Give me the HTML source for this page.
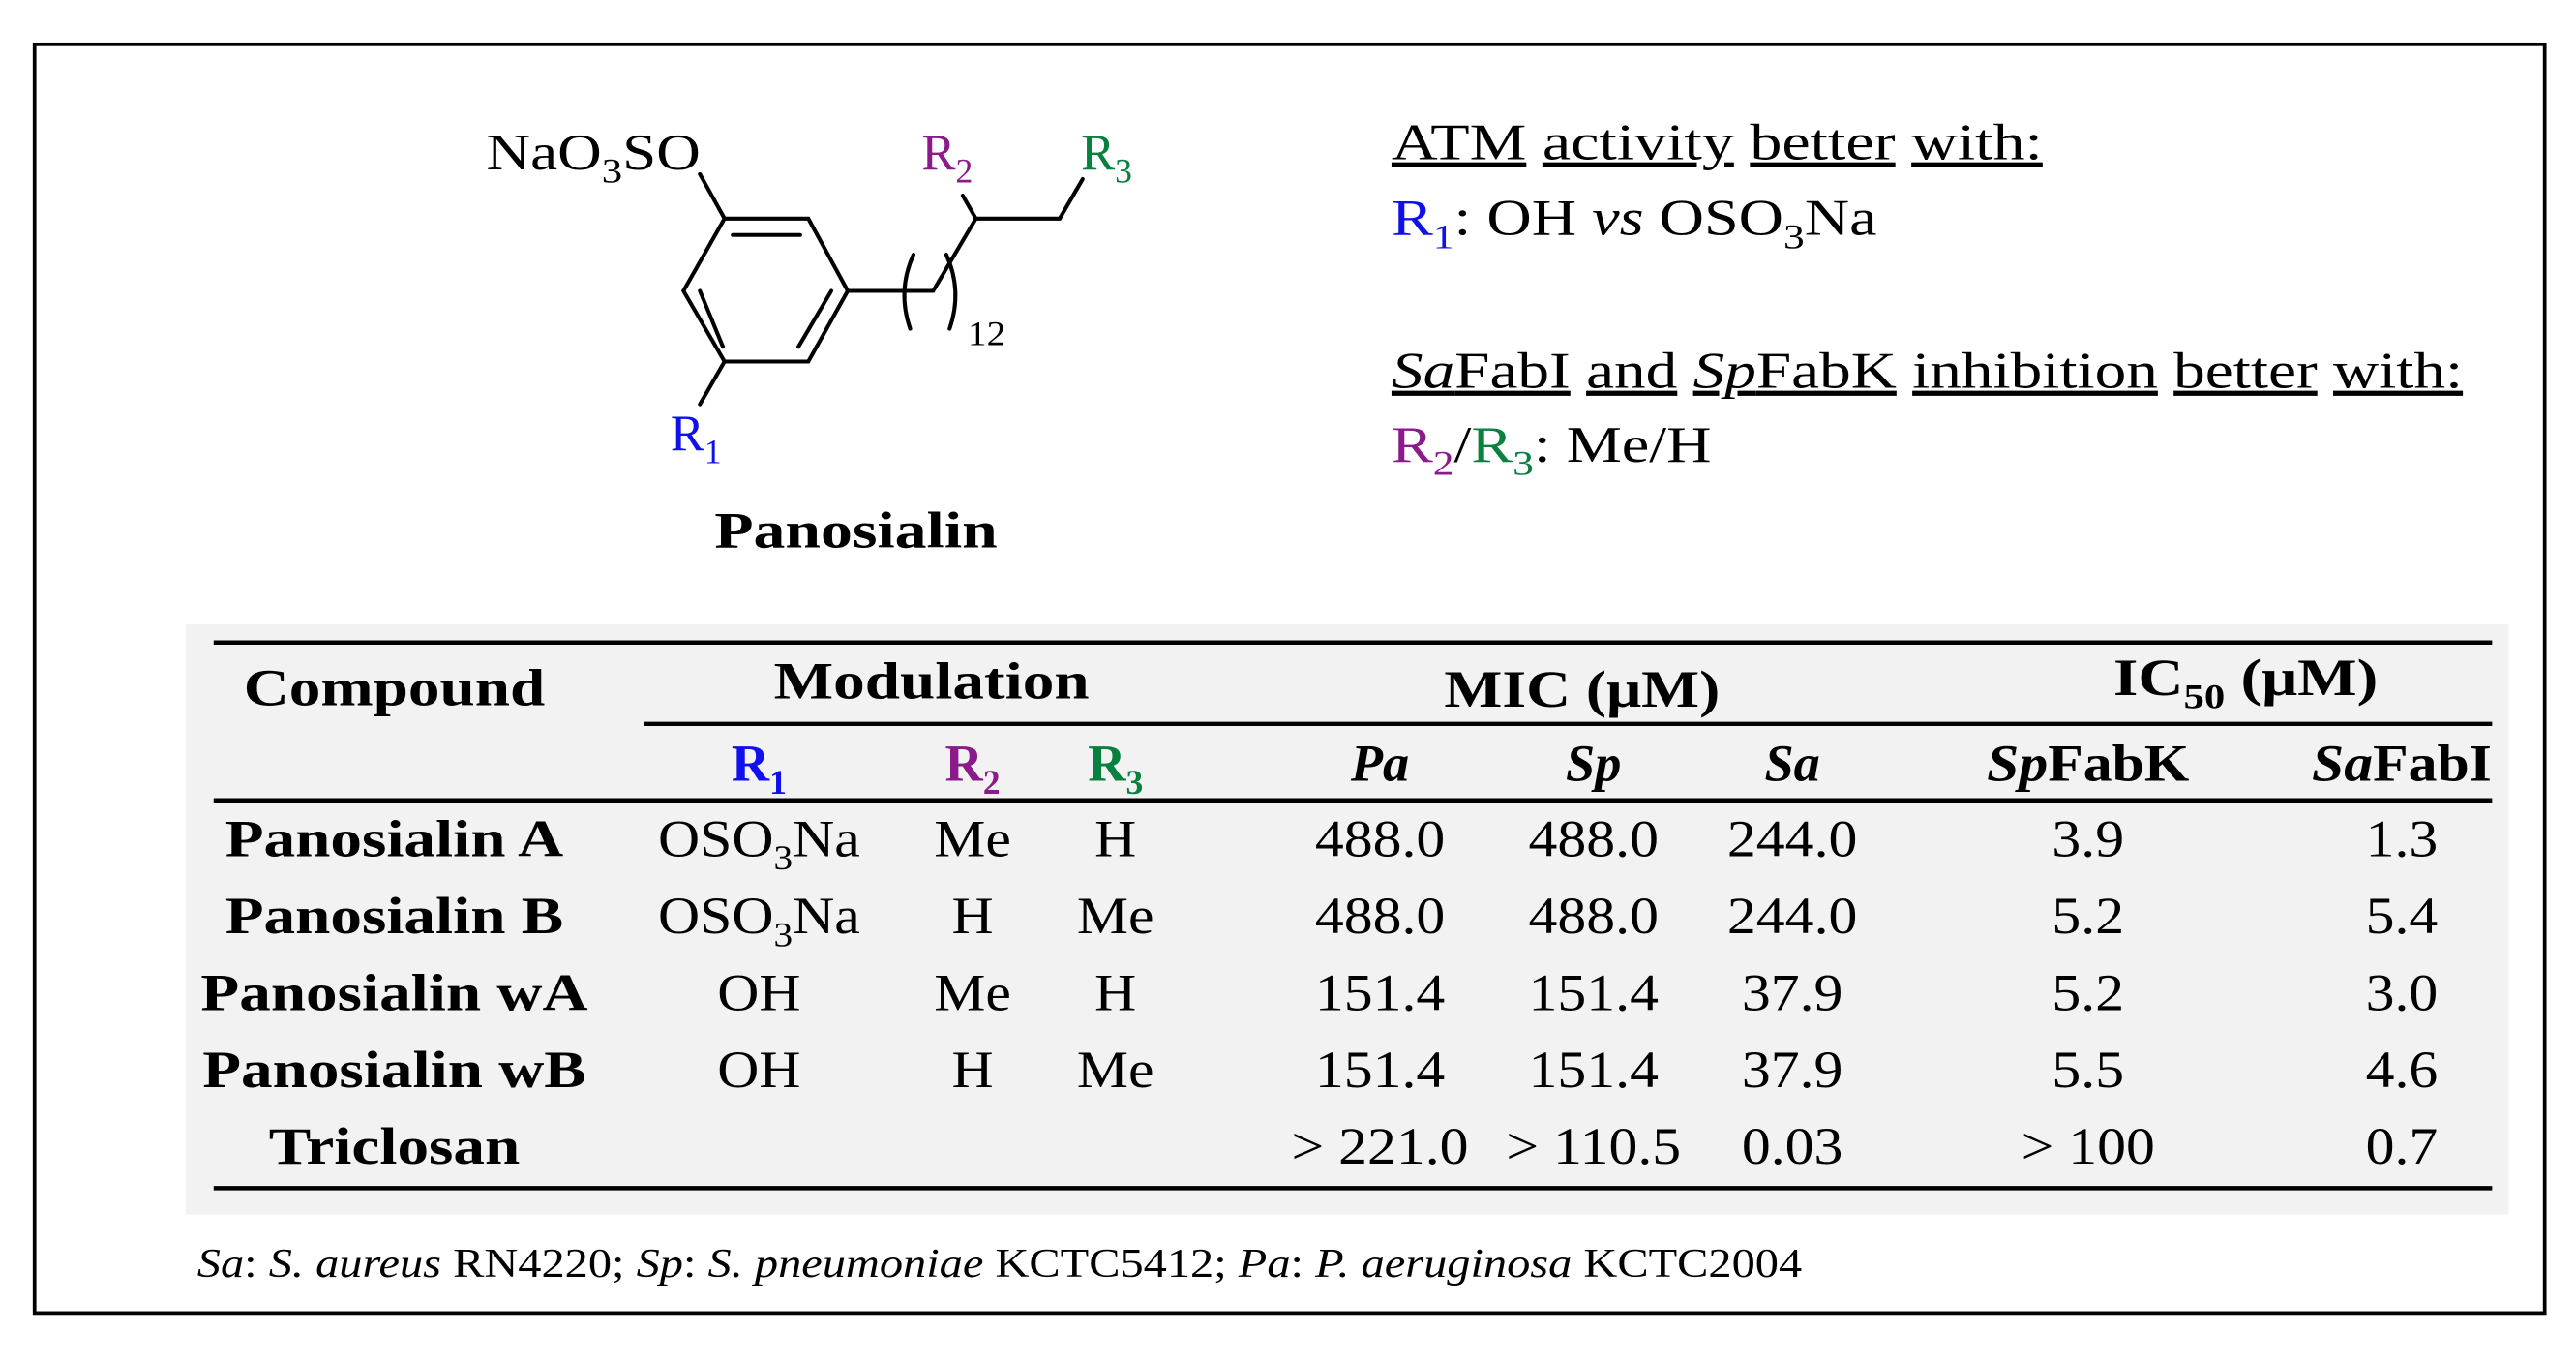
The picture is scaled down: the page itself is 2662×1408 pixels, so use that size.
<!DOCTYPE html>
<html><head><meta charset="utf-8">
<style>
html,body{margin:0;padding:0;background:#fff;}
svg{display:block;}
text{font-family:"Liberation Serif",serif;fill:#000;}
.b{font-weight:bold;}
.i{font-style:italic;}
.c1{fill:#1010ee;} .c2{fill:#8b1a8b;} .c3{fill:#0a8040;}
</style></head>
<body>
<svg id="fig" width="2662" height="1408" viewBox="0 0 1568 829.4" xmlns="http://www.w3.org/2000/svg">
<rect x="21" y="27" width="1528" height="772" fill="none" stroke="#000" stroke-width="2.2"/>

<g stroke="#000" stroke-width="2.4" fill="none" stroke-linecap="round">
  <polygon points="441,133 492,133 516,177 492,220 441,220 416,177"/>
  <line x1="446" y1="143" x2="487" y2="143"/>
  <line x1="426" y1="177" x2="440" y2="211"/>
  <line x1="506" y1="177" x2="486" y2="211"/>
  <line x1="441" y1="133" x2="426" y2="106"/>
  <line x1="441" y1="220" x2="426" y2="246"/>
  <polyline points="516,177 568,177 594,133 645,133 659,109"/>
  <line x1="594" y1="133" x2="586" y2="119"/>
  <path d="M556,155 Q546,177 554,200"/>
  <path d="M576,155 Q586,177 578,200"/>
</g>
<text x="296" y="103" font-size="31" data-s="1.2">NaO<tspan font-size="21" dy="8">3</tspan><tspan dy="-8">SO</tspan></text>
<text x="589" y="210" font-size="21" data-s="1.1">12</text>
<text x="561" y="103" font-size="31" class="c2">R<tspan font-size="21" dy="8" class="c2">2</tspan></text>
<text x="658" y="103" font-size="31" class="c3">R<tspan font-size="21" dy="8" class="c3">3</tspan></text>
<text x="408" y="274" font-size="31" class="c1">R<tspan font-size="21" dy="8" class="c1">1</tspan></text>
<text x="521" y="333" font-size="31" class="b" text-anchor="middle" data-s="1.25">Panosialin</text>

<g font-size="31">
<text x="847" y="97" data-s="1.255"><tspan text-decoration="underline">ATM</tspan> <tspan text-decoration="underline">activity</tspan> <tspan text-decoration="underline">better</tspan> <tspan text-decoration="underline">with:</tspan></text>
<text x="847" y="143" data-s="1.22"><tspan class="c1">R</tspan><tspan class="c1" font-size="21" dy="8">1</tspan><tspan dy="-8">: OH </tspan><tspan class="i">vs</tspan> OSO<tspan font-size="21" dy="8">3</tspan><tspan dy="-8">Na</tspan></text>
<text x="847" y="236" data-s="1.24"><tspan text-decoration="underline"><tspan class="i">Sa</tspan>FabI</tspan> <tspan text-decoration="underline">and</tspan> <tspan text-decoration="underline"><tspan class="i">Sp</tspan>FabK</tspan> <tspan text-decoration="underline">inhibition</tspan> <tspan text-decoration="underline">better</tspan> <tspan text-decoration="underline">with:</tspan></text>
<text x="847" y="281" data-s="1.22"><tspan class="c2">R</tspan><tspan class="c2" font-size="21" dy="8">2</tspan><tspan dy="-8">/</tspan><tspan class="c3">R</tspan><tspan class="c3" font-size="21" dy="8">3</tspan><tspan dy="-8">: Me/H</tspan></text>
</g>

<rect x="113" y="380" width="1414" height="359" fill="#f2f2f2"/>
<g stroke="#000" stroke-width="2.6">
<line x1="130" y1="391" x2="1517" y2="391"/>
<line x1="392" y1="440.5" x2="1517" y2="440.5"/>
<line x1="130" y1="487" x2="1517" y2="487"/>
<line x1="130" y1="723" x2="1517" y2="723"/>
</g>
<g font-size="32" class="b" text-anchor="middle">
<text x="240" y="429" class="b" data-s="1.2">Compound</text>
<text x="567" y="425" class="b" data-s="1.2">Modulation</text>
<text x="963" y="430" class="b" data-s="1.17">MIC (μM)</text>
<text x="1367" y="423" class="b" data-s="1.2">IC<tspan font-size="21" dy="8">50</tspan><tspan dy="-8"> (μM)</tspan></text>
<text x="462" y="475" class="b c1">R<tspan font-size="21" dy="8" class="c1">1</tspan></text>
<text x="592" y="475" class="b c2">R<tspan font-size="21" dy="8" class="c2">2</tspan></text>
<text x="679" y="475" class="b c3">R<tspan font-size="21" dy="8" class="c3">3</tspan></text>
<text x="840" y="475" class="b i">Pa</text>
<text x="970" y="475" class="b i">Sp</text>
<text x="1091" y="475" class="b i">Sa</text>
<text x="1271" y="475" class="b" data-s="1.1"><tspan class="i">Sp</tspan>FabK</text>
<text x="1462" y="475" class="b" data-s="1.1"><tspan class="i">Sa</tspan>FabI</text>
</g>
<g id="rows"></g>
<text x="120" y="777" font-size="25" data-s="1.14"><tspan class="i">Sa</tspan>: <tspan class="i">S. aureus</tspan> RN4220; <tspan class="i">Sp</tspan>: <tspan class="i">S. pneumoniae</tspan> KCTC5412; <tspan class="i">Pa</tspan>: <tspan class="i">P. aeruginosa</tspan> KCTC2004</text>
</svg>
<script>
const compounds = ["Panosialin A","Panosialin B","Panosialin wA","Panosialin wB","Triclosan"];
const r1 = ["OSO3Na","OSO3Na","OH","OH",""];
const r2 = ["Me","H","Me","H",""];
const r3 = ["H","Me","H","Me",""];
const micPa = ["488.0","488.0","151.4","151.4","> 221.0"];
const micSp = ["488.0","488.0","151.4","151.4","> 110.5"];
const micSa = ["244.0","244.0","37.9","37.9","0.03"];
const icSpFabK = ["3.9","5.2","5.2","5.5","> 100"];
const icSaFabI = ["1.3","5.4","3.0","4.6","0.7"];
const NS="http://www.w3.org/2000/svg";
const g=document.getElementById('rows');
const colX=[240,462,592,679,840,970,1091,1271,1462];
function rowY(i){return 521+i*46.8;}
function cell(x,y,s,bold,name){
  const t=document.createElementNS(NS,'text');
  t.setAttribute('x',x);t.setAttribute('y',y);
  t.setAttribute('font-size','32');t.setAttribute('text-anchor','middle');
  t.setAttribute('data-s', bold ? '1.2' : '1.1');
  if(bold)t.setAttribute('class','b');
  
  
  if(s.indexOf('SO3')>=0){
    t.appendChild(document.createTextNode('OSO'));
    const a=document.createElementNS(NS,'tspan');a.setAttribute('font-size','21');a.setAttribute('dy','8');a.textContent='3';t.appendChild(a);
    const b=document.createElementNS(NS,'tspan');b.setAttribute('dy','-8');b.textContent='Na';t.appendChild(b);
  } else t.textContent=s;
  g.appendChild(t);
}
compounds.forEach((c,i)=>{
  const y=rowY(i);
  const vals=[c,r1[i],r2[i],r3[i],micPa[i],micSp[i],micSa[i],icSpFabK[i],icSaFabI[i]];
  const names=['compound-name','r1-value','r2-value','r3-value','mic-pa','mic-sp','mic-sa','ic50-spfabk','ic50-safabi'];
  vals.forEach((v,j)=>{ if(v!=='') cell(colX[j],y,v,j===0,names[j]); });
});
document.querySelectorAll('#fig text[data-s]').forEach(t=>{
  const f=parseFloat(t.getAttribute('data-s'));
  const L=t.getComputedTextLength();
  t.setAttribute('textLength',(L*f).toFixed(1));
  t.setAttribute('lengthAdjust','spacingAndGlyphs');
});
</script>
</body></html>
